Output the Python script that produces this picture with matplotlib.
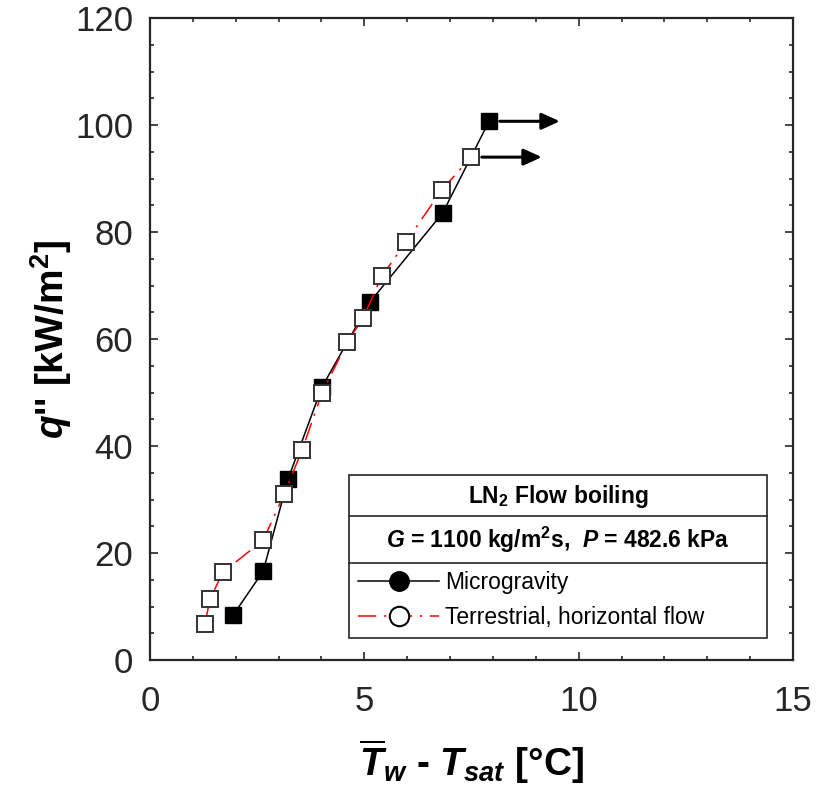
import matplotlib.pyplot as plt
import numpy as np
from matplotlib.lines import Line2D
from matplotlib.ticker import MultipleLocator

plt.rcParams['font.family'] = ['Liberation Sans', 'DejaVu Sans']
plt.rcParams['mathtext.fontset'] = 'custom'
plt.rcParams['mathtext.rm'] = 'Liberation Sans:bold'
plt.rcParams['mathtext.it'] = 'Liberation Sans:italic:bold'
plt.rcParams['mathtext.bf'] = 'Liberation Sans:bold'

# microgravity (filled squares)
micro_dT = [1.94, 2.64, 3.22, 4.01, 5.13, 6.83, 7.91]
micro_q = [8.4, 16.6, 33.8, 51.0, 66.9, 83.6, 100.7]

# terrestrial, horizontal flow (open squares)
terr_dT = [1.28, 1.40, 1.70, 2.64, 3.13, 3.55, 4.01, 4.60, 4.97, 5.41, 5.97, 6.81, 7.49]
terr_q = [6.7, 11.4, 16.4, 22.4, 31.0, 39.3, 49.9, 59.4, 63.9, 71.8, 78.1, 87.9, 94.0]

dark = '#262626'
dashdot = (0, (12, 5, 1.5, 5))

fig = plt.figure(figsize=(8.21, 7.98), dpi=100)
ax = fig.add_axes([0.1827, 0.1729, 0.7832, 0.8045])

ax.plot(micro_dT, micro_q, color='black', lw=1.1, marker='s', ms=11.5,
        mfc='black', mec='black', mew=1.0, zorder=3)
ax.plot(terr_dT, terr_q, color='red', lw=1.1, ls=dashdot, marker='s', ms=11.5,
        mfc='white', mec='#333333', mew=1.4, zorder=4)

# arrows: points beyond range
for x, y in [(micro_dT[-1], micro_q[-1]), (terr_dT[-1], terr_q[-1])]:
    ax.annotate('', xy=(x + 1.65, y), xytext=(x + 0.25, y),
                arrowprops=dict(arrowstyle='-|>,head_length=1.1,head_width=0.5',
                                color='black', lw=2.2, shrinkA=0, shrinkB=0), zorder=5)

ax.set_xlim(0, 15)
ax.set_ylim(0, 120)
ax.xaxis.set_major_locator(MultipleLocator(5))
ax.xaxis.set_minor_locator(MultipleLocator(1))
ax.yaxis.set_major_locator(MultipleLocator(20))
ax.yaxis.set_minor_locator(MultipleLocator(5))
ax.tick_params(which='both', direction='in', top=True, right=True, color=dark,
               labelcolor=dark, labelsize=25, width=1.2)
ax.tick_params(which='major', length=6)
ax.tick_params(which='minor', length=3)
ax.tick_params(axis='x', pad=18)
ax.tick_params(axis='y', pad=12)
for s in ax.spines.values():
    s.set_color(dark)
    s.set_linewidth(1.6)

ax.set_xlabel(r"$\overline{T}_w$ - $T_{sat}$ [°C]", fontsize=28, fontweight='bold', labelpad=14)
ax.set_ylabel(r"$q$'' [kW/m$^2$]", fontsize=28, fontweight='bold', labelpad=1)

# legend box
x0, x1 = 0.309, 0.960
yb, yt = 0.034, 0.288
box = plt.Rectangle((x0, yb), x1 - x0, yt - yb, transform=ax.transAxes,
                    facecolor='white', edgecolor=dark, lw=1.2, zorder=6)
ax.add_patch(box)
for yy in [0.224, 0.151]:
    ax.plot([x0, x1], [yy, yy], transform=ax.transAxes, color=dark, lw=1.2, zorder=7)
xm = (x0 + x1) / 2
ax.text(xm, 0.255, r"LN$_2$ Flow boiling", transform=ax.transAxes, ha='center', va='center',
        fontsize=16.5, fontweight='bold', zorder=8)
ax.text(xm, 0.187, r"$G$ = 1100 kg/m$^2$s,  $P$ = 482.6 kPa", transform=ax.transAxes,
        ha='center', va='center', fontsize=16.5, fontweight='bold', zorder=8)

handles = [Line2D([], [], color='black', lw=1.1, marker='o', ms=14, mfc='black', mec='black'),
           Line2D([], [], color='red', lw=1.1, ls=dashdot, marker='o', ms=14,
                  mfc='white', mec='black', mew=1.5)]
labels = ['Microgravity', 'Terrestrial, horizontal flow']
leg = ax.legend(handles, labels, loc='upper left', bbox_to_anchor=(x0 + 0.008, 0.1455),
                frameon=False, fontsize=16.5, handlelength=3.5, handletextpad=0.3,
                labelspacing=0.52, borderaxespad=0, borderpad=0.2)
leg.set_zorder(9)

fig.savefig('out.png', dpi=100)
